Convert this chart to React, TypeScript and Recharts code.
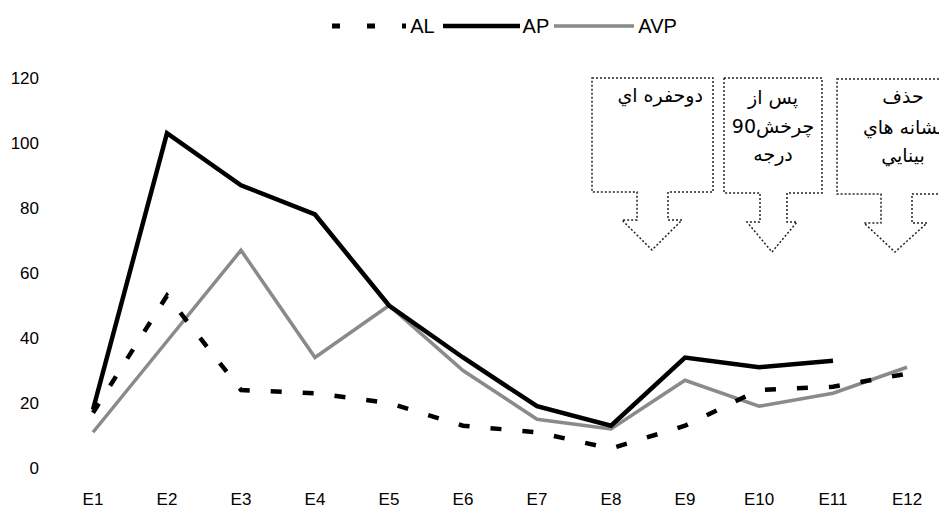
import React from 'react';
import { LineChart, Line, XAxis, YAxis, Legend } from 'recharts';

const categories = ['E1', 'E2', 'E3', 'E4', 'E5', 'E6', 'E7', 'E8', 'E9', 'E10', 'E11', 'E12'];
const alValues = [17, 53, 24, 23, 20, 13, 11, 6, 13, 24, 25, 29];
const apValues: (number | null)[] = [18, 103, 87, 78, 50, 34, 19, 13, 34, 31, 33, null];
const avpValues = [11, 39, 67, 34, 50, 30, 15, 12, 27, 19, 23, 31];
const yTicks = [0, 20, 40, 60, 80, 100, 120];

const data = categories.map((name, i) => ({
  name,
  AL: alValues[i],
  AP: apValues[i],
  AVP: avpValues[i],
}));

const FONT = "'Liberation Sans', Arial, 'DejaVu Sans', sans-serif";
const W = 939;
const H = 511;

// callout boxes (dotted rectangle with a down arrow), svg coordinates
type Callout = { x0: number; x1: number; y0: number; y1: number; sL: number; sR: number; hL: number; hR: number; hy: number; tx: number; ty: number };
const callouts: Callout[] = [
  { x0: 584, x1: 705, y0: 70, y1: 184, sL: 629, sR: 660, hL: 614, hR: 674, hy: 212, tx: 644, ty: 242 },
  { x0: 716, x1: 814, y0: 70, y1: 185, sL: 752, sR: 779, hL: 739, hR: 789, hy: 214, tx: 764, ty: 244 },
  { x0: 829, x1: 950, y0: 71, y1: 186, sL: 873, sR: 904, hL: 856, hR: 919, hy: 215, tx: 887, ty: 244 },
];

function calloutPath(c: Callout) {
  return `M${c.x0},${c.y0} L${c.x1},${c.y0} L${c.x1},${c.y1} L${c.sR},${c.y1} L${c.sR},${c.hy} L${c.hR},${c.hy} L${c.tx},${c.ty} L${c.hL},${c.hy} L${c.sL},${c.hy} L${c.sL},${c.y1} L${c.x0},${c.y1} Z`;
}

function LegendContent() {
  return (
    <div style={{ height: 66, display: 'flex', justifyContent: 'center', alignItems: 'flex-start', paddingLeft: 57, fontFamily: FONT, fontSize: 20, lineHeight: '28px' }}>
      <svg width={74} height={28}><line x1={0} y1={14} x2={74} y2={14} stroke="#000" strokeWidth={5} strokeDasharray="8 27" /></svg>
      <span style={{ marginLeft: 4, marginRight: 8 }}>AL</span>
      <svg width={77} height={28}><line x1={0} y1={14} x2={77} y2={14} stroke="#000" strokeWidth={4.5} /></svg>
      <span style={{ marginLeft: 3, marginRight: 5 }}>AP</span>
      <svg width={80} height={28}><line x1={0} y1={14} x2={80} y2={14} stroke="#8a8a8a" strokeWidth={3.5} /></svg>
      <span style={{ marginLeft: 4 }}>AVP</span>
    </div>
  );
}

export default function App() {
  return (
    <div style={{ position: 'relative', width: W, height: H }}>
      <LineChart width={W} height={H} data={data} margin={{ top: 4, right: 3, left: 0, bottom: 21 }}>
        <Legend verticalAlign="top" content={<LegendContent />} />
        <XAxis
          dataKey="name"
          padding={{ left: 37, right: 37 }}
          axisLine={false}
          tickLine={false}
          tickMargin={19}
          height={30}
          interval={0}
          tick={{ fontSize: 17, fill: '#000', fontFamily: FONT }}
        />
        <YAxis
          domain={[0, 120]}
          ticks={yTicks}
          width={48}
          axisLine={false}
          tickLine={false}
          tickMargin={11}
          tick={{ fontSize: 17, fill: '#000', fontFamily: FONT }}
        />
        <Line dataKey="AVP" type="linear" stroke="#8a8a8a" strokeWidth={3.5} dot={false} isAnimationActive={false} />
        <Line dataKey="AP" type="linear" stroke="#000" strokeWidth={4.5} dot={false} isAnimationActive={false} />
        <Line dataKey="AL" type="linear" stroke="#000" strokeWidth={4.5} strokeDasharray="11 21" dot={false} isAnimationActive={false} />
      </LineChart>
      <svg width={W} height={H} style={{ position: 'absolute', left: 0, top: 0, pointerEvents: 'none' }}>
        {callouts.map((c, i) => (
          <path key={i} d={calloutPath(c)} fill="none" stroke="#222" strokeWidth={1.5} strokeDasharray="2 2" />
        ))}
        <g fontFamily="'DejaVu Sans', sans-serif" fontSize={19} fill="#000">
          <text x={695} y={94} textAnchor="end">دوحفره اي</text>
          <text x={765} y={96} textAnchor="middle">پس از</text>
          <text x={765} y={125} textAnchor="middle">چرخش90</text>
          <text x={765} y={153} textAnchor="middle">درجه</text>
          <text x={895} y={95} textAnchor="middle">حذف</text>
          <text x={895} y={126} textAnchor="middle">نشانه هاي</text>
          <text x={895} y={154} textAnchor="middle">بينايي</text>
        </g>
      </svg>
    </div>
  );
}
